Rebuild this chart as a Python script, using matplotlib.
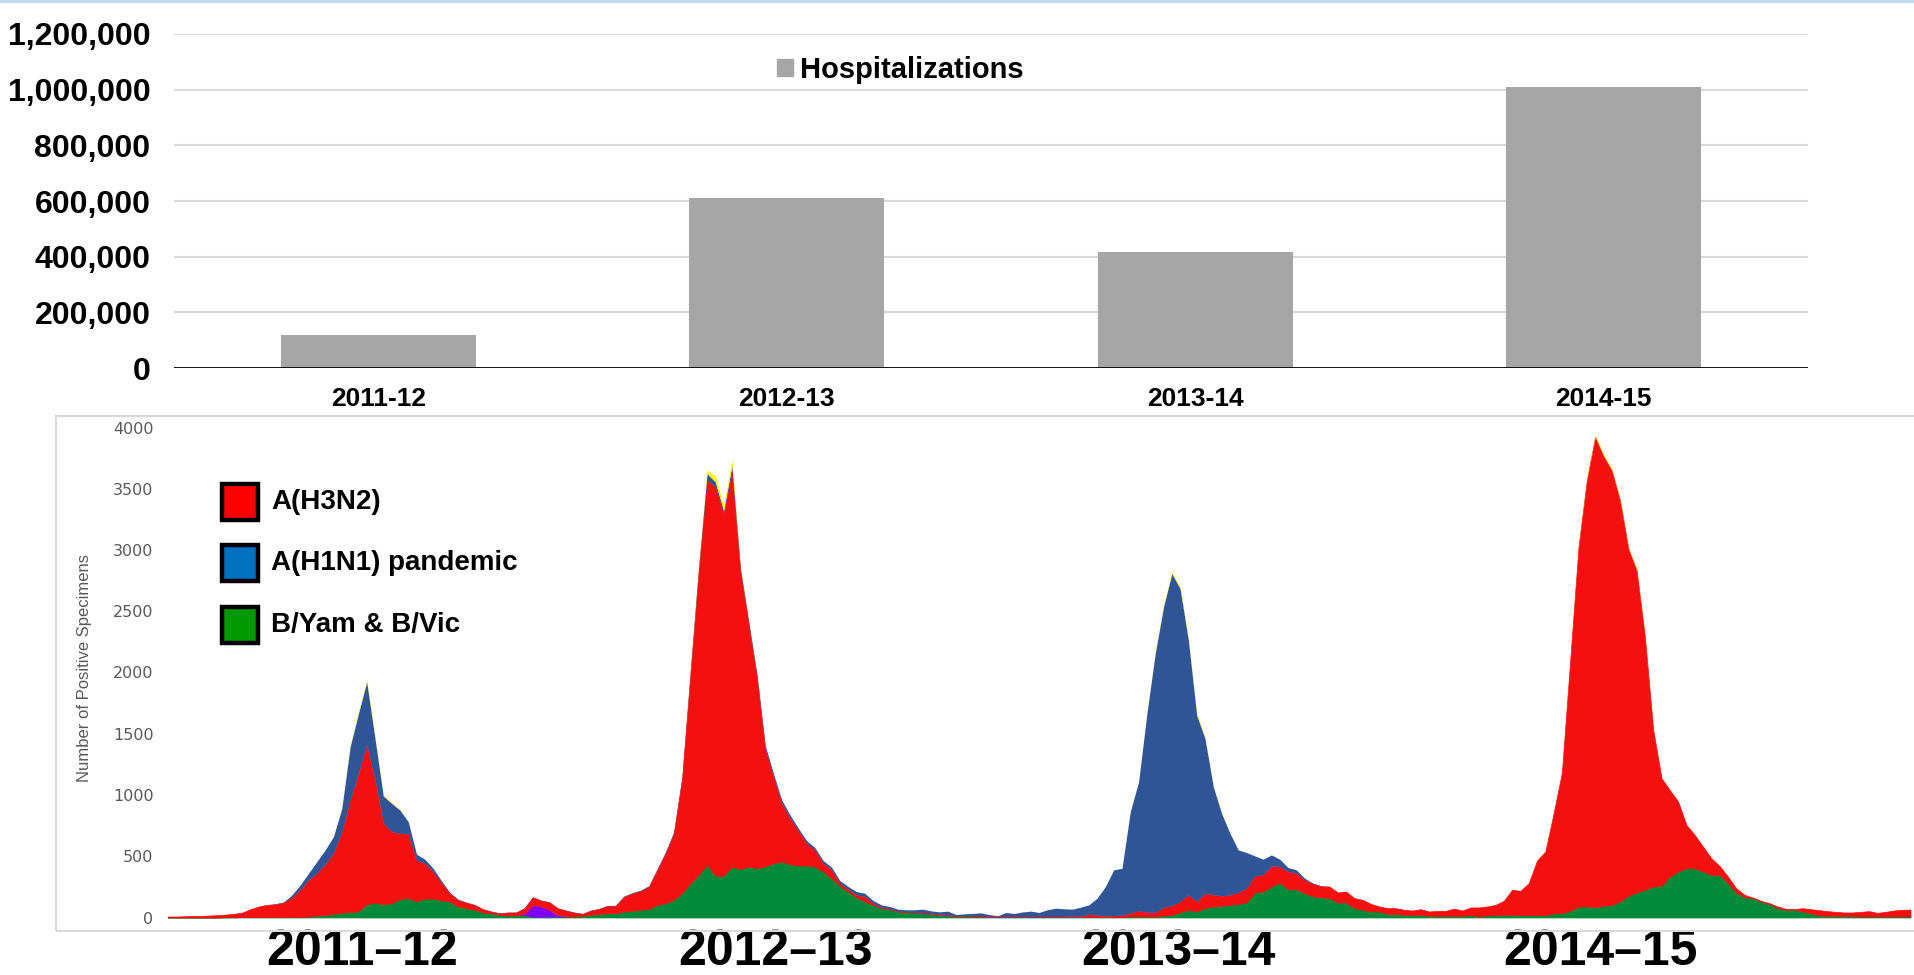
import numpy as np
import matplotlib
matplotlib.use("Agg")
import matplotlib.pyplot as plt
from matplotlib.patches import Patch, Rectangle
from matplotlib.lines import Line2D
from matplotlib.ticker import FuncFormatter

plt.rcParams["font.family"] = ["Liberation Sans", "DejaVu Sans"]

# top panel: estimated hospitalizations per season
seasons = ["2011-12", "2012-13", "2013-14", "2014-15"]
hospitalizations = [120000, 610000, 415000, 1010000]

# bottom panel: weekly positive specimens, week 40 of 2011 onwards
flu_b = [
    0, 0, 0, 0, 0, 0, 0, 2, 2, 3, 3, 3, 3, 4,
    4, 5, 5, 8, 15, 20, 30, 38, 45, 50, 110, 120, 110, 115, 150, 160, 130, 155, 155, 140, 130,
    90, 76, 63, 41, 35, 22, 16, 19, 16, 3, 3, 3, 5, 6, 8, 14, 22, 30, 35, 35,
    49, 55, 63, 68, 103, 117, 144, 198, 280, 348, 430, 340, 340, 416,
    394, 416, 402, 416, 443, 457, 435, 424, 424, 416, 375, 321, 258, 212, 166, 130, 103, 76, 68, 49,
    44, 41, 35, 30, 22, 16, 11, 11, 8, 8, 5, 5, 5, 5, 3, 3,
    3, 3, 3, 3, 3, 3, 5, 5, 5, 5, 5, 8, 8, 8, 8, 14, 22, 41, 63, 49,
    76, 90, 95, 103, 111, 122, 204, 212, 253, 285, 231, 231, 198, 174, 165,
    158, 122, 122, 76, 63, 49, 49, 30, 30, 22, 22, 22, 14, 14, 14, 14, 14, 19, 8, 16,
    19, 22, 22, 19, 19, 19, 19, 33, 35, 54, 90, 90, 84,
    95, 103, 130, 177, 204, 226, 253, 258, 334, 375, 402, 402, 375, 348, 348, 280, 204, 166, 158, 130,
    111, 76, 63, 63, 49, 35, 16, 14, 14, 12, 10, 8, 8, 8, 8, 8, 8, 8,
]
h3n2 = [
    8, 8, 10, 13, 13, 16, 19, 22, 28, 37, 65, 87, 100, 105,
    118, 161, 221, 299, 347, 415, 495, 663, 915, 1127, 1298, 1003, 660, 586, 538, 520, 335, 288, 220, 145, 68,
    54, 46, 40, 27, 14, 13, 25, 22, 46, 63, 49, 62, 54, 47, 33, 16, 35, 41, 60, 60,
    122, 143, 155, 185, 286, 408, 544, 939, 1713, 2488, 3140, 3176, 2960, 3224,
    2442, 1985, 1564, 965, 707, 476, 375, 286, 182, 136, 68, 68, 22, 19, 19, 41, 14, 8, 5, 3,
    3, 3, 6, 5, 5, 6, 3, 3, 6, 6, 3, 1, 1, 1, 3, 3,
    3, 3, 5, 5, 7, 5, 22, 14, 9, 11, 14, 27, 46, 36, 33, 70, 73, 89, 122, 81,
    122, 95, 82, 82, 93, 117, 136, 136, 168, 131, 144, 131, 109, 102, 90,
    95, 82, 90, 82, 81, 62, 41, 46, 46, 41, 35, 46, 35, 40, 40, 59, 43, 63, 74, 74,
    84, 114, 204, 199, 261, 446, 519, 818, 1148, 2048, 2936, 3480, 3840,
    3675, 3549, 3277, 2836, 2632, 2066, 1278, 879, 707, 571, 354, 272, 204, 136, 73, 54, 35, 19, 5, 6,
    6, 14, 8, 5, 27, 33, 44, 38, 32, 29, 31, 38, 44, 30, 38, 49, 55, 57,
]
h1n1pdm = [
    0, 0, 0, 0, 0, 0, 0, 0, 0, 0, 0, 0, 0, 2,
    6, 19, 40, 55, 95, 117, 136, 191, 435, 490, 517, 340, 222, 232, 190, 103, 52, 33, 27, 15, 7,
    4, 2, 2, 2, 2, 2, 2, 2, 2, 2, 2, 2, 2, 2, 2, 2, 2, 2, 3, 5,
    4, 4, 5, 6, 8, 10, 12, 15, 20, 25, 54, 40, 20, 50,
    27, 27, 27, 27, 27, 27, 27, 19, 22, 19, 22, 22, 22, 22, 27, 27, 22, 19, 17, 16,
    16, 19, 27, 19, 19, 30, 10, 16, 19, 24, 16, 8, 35, 27, 39, 46,
    35, 57, 68, 63, 58, 76, 76, 139, 239, 373, 383, 830, 1055, 1623, 2115, 2453, 2714, 2556, 2080, 1523,
    1265, 884, 674, 503, 348, 291, 163, 128, 90, 60, 33, 27, 14, 4, 3,
] + [0] * 71
h3n2v_weeks = [43, 44, 45, 46, 47, 48]
h3n2v_counts = [14, 100, 87, 60, 17, 4]
other_weeks = [21, 22, 23, 24, 25, 26, 27, 28,
               63, 64, 65, 66, 67, 68, 69, 70, 71,
               118, 119, 120, 121, 122, 123, 124, 125, 126, 127,
               169, 170, 171, 172, 173, 174, 175, 176, 177, 178]
other_counts = [5, 8, 10, 12, 8, 6, 5, 4,
                10, 15, 28, 50, 40, 45, 10, 8, 5,
                5, 8, 10, 12, 12, 10, 10, 8, 6, 5,
                5, 8, 10, 12, 12, 10, 10, 8, 8, 6]

season_labels = ["2011–12", "2012–13", "2013–14", "2014–15"]
legend_labels = ["A(H3N2)", "A(H1N1) pandemic", "B/Yam & B/Vic"]

W, H = 1915, 975


def fx(px):
    return px / W


def fy(py):
    return 1 - py / H


fig = plt.figure(figsize=(W / 100, H / 100), dpi=100)

# thin light blue rule across the very top
fig.add_artist(Line2D([0, 1], [fy(1), fy(1)], color="#BDD7EE", lw=2))

# ---- top bar chart ----
ax1 = fig.add_axes([fx(174), fy(368), fx(1808) - fx(174), (368 - 34) / H])
x = np.arange(len(seasons))
ax1.bar(x, hospitalizations, width=0.477, color="#A6A6A6", zorder=2)
ax1.set_xlim(-0.5, len(seasons) - 0.5)
ax1.set_ylim(0, 1200000)
ax1.set_yticks(np.arange(0, 1200001, 200000))
ax1.yaxis.set_major_formatter(FuncFormatter(lambda v, _: f"{v:,.0f}"))
ax1.yaxis.grid(True, color="#D9D9D9", lw=1.5, zorder=0)
ax1.set_axisbelow(True)
for s in ax1.spines.values():
    s.set_visible(False)
ax1.axhline(0, color="black", lw=2, zorder=3)
ax1.set_xticks(x, seasons, fontweight="bold")
ax1.tick_params(axis="x", length=0, pad=14, labelsize=19)
ax1.tick_params(axis="y", length=0, pad=17, labelsize=23)
for lab in ax1.get_yticklabels():
    lab.set_fontweight("bold")
ax1.legend(handles=[Patch(color="#A6A6A6", label="Hospitalizations")],
           loc="center left", bbox_to_anchor=(fx(777), fy(70)),
           bbox_transform=fig.transFigure, frameon=False,
           handlelength=0.55, handleheight=0.55, handletextpad=0.25,
           borderpad=0, borderaxespad=0, prop={"size": 21, "weight": "bold"})

# ---- bottom stacked area ----
fig.add_artist(Rectangle((fx(56), fy(931)), 1.0, (931 - 416) / H, fill=False,
                         edgecolor="#D9D9D9", lw=1.5))

weeks = np.arange(len(h3n2))
h3n2v = np.zeros(len(weeks))
h3n2v[h3n2v_weeks] = h3n2v_counts
other = np.zeros(len(weeks))
other[other_weeks] = other_counts

ax2 = fig.add_axes([fx(167.5), fy(917.5), fx(1915) - fx(167.5), (917.5 - 427.5) / H])
polys = ax2.stackplot(weeks, flu_b, h3n2v, h3n2, h1n1pdm, other,
                      colors=["#008A3A", "#8000FF", "#F50F0F", "#2F5597", "#FFF200"],
                      edgecolor="face", linewidth=0.5)
for p in polys[1:2] + polys[3:]:
    p.set_linewidth(0)
ax2.set_xlim(0, (1915 - 167.5) / 8.3)
ax2.set_ylim(0, 4000)
for s in ax2.spines.values():
    s.set_visible(False)
ax2.set_yticks(np.arange(0, 4001, 500))
ax2.tick_params(axis="y", length=0, pad=10, labelsize=11.5, labelcolor="#595959",
                labelfontfamily="DejaVu Sans")
ax2.set_ylabel("Number of Positive Specimens", color="#595959", fontsize=12)
ax2.yaxis.set_label_coords(-0.0432, 0.51)
season_pos = [23.4, 73.3, 121.8, 172.6]
ax2.set_xticks(season_pos, season_labels, fontweight="bold")
ax2.tick_params(axis="x", length=0, pad=8.5, labelsize=36)

legend_colors = ["#FF0000", "#0070C0", "#009900"]
for k, (label, color) in enumerate(zip(legend_labels, legend_colors)):
    yc = 502 + 61.3 * k
    fig.add_artist(Rectangle((fx(222), fy(yc + 18)), 36 / W, 36 / H,
                             facecolor=color, edgecolor="black", lw=3.2))
    fig.text(fx(271), fy(yc), label, fontsize=20, fontweight="bold", va="center")

fig.savefig("out.png", dpi=100)
